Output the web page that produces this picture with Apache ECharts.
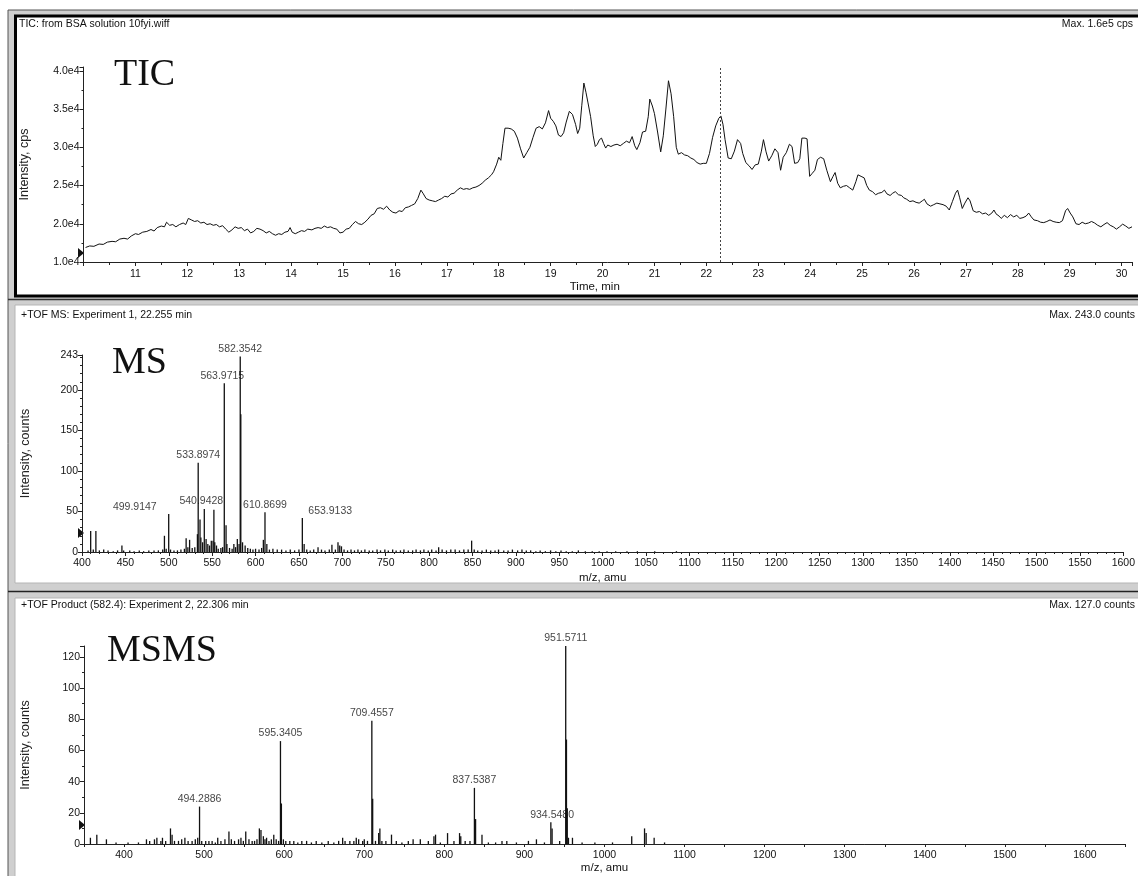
<!DOCTYPE html>
<html>
<head>
<meta charset="utf-8">
<script src="https://cdn.jsdelivr.net/npm/echarts@6/dist/echarts.min.js"></script>
<style>html,body{margin:0;padding:0;background:#fff}#c{width:1138px;height:876px}</style>
</head>
<body>
<div id="c"></div>
<script>
// ---------- DATA ----------
const ticTitle = 'TIC: from BSA solution 10fyi.wiff';
const ticMax = 'Max. 1.6e5 cps';
const msTitle = '+TOF MS: Experiment 1, 22.255 min';
const msMax = 'Max. 243.0 counts';
const msmsTitle = '+TOF Product (582.4): Experiment 2, 22.306 min';
const msmsMax = 'Max. 127.0 counts';

const ticYTickValues = [15000, 20000, 25000, 30000, 35000, 40000];
const ticYTickLabels = ['1.0e4', '2.0e4', '2.5e4', '3.0e4', '3.5e4', '4.0e4'];
const msYTickValues = [0, 50, 100, 150, 200, 243];
const msmsYTickValues = [0, 20, 40, 60, 80, 100, 120];
const ticCursorTime = 22.27;

// TIC trace: [time(min), intensity(cps)]
const ticTime = [10.04,10.12,10.2,10.3,10.38,10.46,10.55,10.62,10.7,10.78,10.85,10.92,11.0,11.06,11.14,11.22,11.3,11.36,11.42,11.5,11.56,11.6,11.66,11.72,11.78,11.85,11.92,11.97,12.02,12.08,12.14,12.2,12.26,12.32,12.38,12.44,12.5,12.56,12.62,12.68,12.74,12.8,12.86,12.92,12.98,13.04,13.1,13.16,13.22,13.28,13.34,13.4,13.46,13.52,13.58,13.64,13.7,13.76,13.82,13.88,13.94,13.98,14.02,14.08,14.14,14.2,14.26,14.32,14.4,14.46,14.52,14.58,14.64,14.7,14.76,14.82,14.88,14.94,15.0,15.06,15.12,15.18,15.24,15.3,15.36,15.42,15.48,15.54,15.6,15.66,15.72,15.78,15.84,15.9,15.96,16.02,16.08,16.14,16.2,16.26,16.32,16.38,16.44,16.5,16.54,16.6,16.66,16.72,16.78,16.84,16.9,16.96,17.02,17.08,17.14,17.2,17.26,17.32,17.38,17.44,17.5,17.56,17.62,17.68,17.74,17.8,17.86,17.9,17.96,18.0,18.04,18.08,18.12,18.18,18.24,18.3,18.36,18.42,18.48,18.54,18.6,18.66,18.72,18.78,18.84,18.9,18.96,19.0,19.05,19.1,19.15,19.2,19.25,19.3,19.36,19.42,19.48,19.52,19.56,19.6,19.64,19.68,19.72,19.77,19.82,19.86,19.9,19.94,19.98,20.02,20.06,20.1,20.16,20.22,20.28,20.34,20.4,20.46,20.52,20.57,20.62,20.66,20.72,20.77,20.83,20.88,20.91,20.96,21.0,21.06,21.12,21.17,21.22,21.27,21.32,21.37,21.42,21.46,21.52,21.58,21.64,21.7,21.76,21.82,21.88,21.94,22.0,22.06,22.12,22.18,22.24,22.28,22.32,22.36,22.42,22.48,22.54,22.6,22.66,22.7,22.76,22.82,22.88,22.94,23.0,23.06,23.1,23.15,23.2,23.26,23.32,23.38,23.43,23.48,23.54,23.6,23.65,23.7,23.76,23.8,23.84,23.9,23.94,23.99,24.04,24.09,24.14,24.2,24.26,24.32,24.39,24.44,24.48,24.53,24.58,24.64,24.7,24.76,24.82,24.88,24.92,24.98,25.04,25.09,25.14,25.2,25.26,25.32,25.38,25.43,25.48,25.54,25.59,25.64,25.7,25.76,25.8,25.86,25.92,25.98,26.04,26.1,26.16,26.2,26.25,26.32,26.38,26.44,26.5,26.56,26.62,26.68,26.74,26.8,26.84,26.88,26.93,26.98,27.04,27.08,27.14,27.2,27.26,27.32,27.38,27.44,27.5,27.54,27.58,27.64,27.68,27.74,27.8,27.86,27.92,27.98,28.04,28.1,28.16,28.21,28.26,28.31,28.38,28.44,28.5,28.56,28.62,28.68,28.74,28.8,28.86,28.92,28.96,29.01,29.06,29.12,29.18,29.24,29.3,29.36,29.42,29.48,29.54,29.6,29.66,29.72,29.78,29.84,29.9,29.96,30.02,30.08,30.14,30.2];
const ticIntensity = [16900,17100,17050,17350,17300,17600,17700,17650,18000,18100,18000,18400,18700,18600,18900,19000,19250,19050,19500,19700,19600,20200,19800,19900,19600,19900,20100,19900,20700,20500,20300,20400,20100,20200,19900,20000,19800,19900,19600,19750,19300,18900,19200,19600,19400,19500,19100,19300,18800,19000,19400,19300,19100,18800,19000,18700,18500,18700,18600,18900,19000,19500,18900,18700,18900,19100,19000,19300,19200,19400,19500,19400,19700,19500,19600,19400,19300,18800,18900,19300,19400,19900,20300,20000,19900,20200,20600,21100,21300,22000,22100,21900,22300,21800,21500,21400,21700,21600,22100,22200,22400,22600,23300,24400,24000,23300,23100,23000,22900,23100,23300,23600,23500,23900,24000,24400,24700,24500,24600,24500,24700,24800,25000,25300,25700,26000,26400,26800,27800,28700,28300,30500,32500,32500,32400,32100,31200,29800,28600,29300,30000,31300,32500,32700,32400,33200,34800,33800,33400,32800,31600,31400,31900,33300,34700,34300,33000,31800,32500,35500,38400,37200,35800,34000,31500,30100,30400,31000,31200,30500,29900,30300,30100,30300,30400,30200,30500,30800,30600,31400,30200,29700,30600,32000,32100,34000,36300,35400,34400,32000,29400,31500,35000,38700,37000,34000,30000,29100,29300,29000,28900,28600,28400,28000,27800,27900,27900,29200,31300,32800,33800,34100,33000,31000,28600,28500,29500,31000,30500,29200,28000,27600,27100,27700,27800,29500,31000,29400,28200,28900,29800,29300,27000,28700,29300,30400,30100,27900,28000,28500,31200,31200,31100,26200,26600,27000,28400,28700,28500,27000,25500,26200,26700,25300,24700,24900,25000,24700,24400,25500,26400,26200,26000,25000,24400,24200,23800,24000,24100,24400,23900,23700,24000,24200,23800,23700,23400,23200,22900,23000,22800,22700,23000,23200,22600,22300,22500,22700,22600,22500,22300,21800,22900,24000,24400,23400,22000,22700,23400,23000,21700,21500,21600,21300,21400,21100,21400,21800,21300,21000,20700,21100,20800,21200,20900,21100,20700,20800,21000,21400,20900,20500,20400,20200,20150,20300,20500,20300,20200,20150,20400,21700,22000,21400,20900,20000,19900,20200,20000,20100,20300,20100,19800,19600,19900,20150,19800,19600,19300,19600,19950,19700,19400,19600];

// MS spectrum sticks: m/z and intensity (counts)
const msMz = [407,410,413,416,420,425,430,436,441,446,448,455,460,466,471,477,483,488,493,495,497,499.91,502,506,510,514,518,520,522,524,527,530,533,533.9,536,537,539,540.94,543,545,547,549,551,552,553,555,557,560,562,563.97,566,567,570,573,575,577,579,581,582.35,583,585,588,591,594,597,600,604,607,609,610.87,613,616,620,625,630,635,640,645,650,653.91,656,659,663,667,672,676,680,685,688,692,695,697,699,702,706,710,714,718,722,726,731,735,740,744,749,753,758,762,767,771,776,781,785,790,794,799,803,808,811,815,820,825,830,835,840,845,849,852,856,861,866,871,876,880,886,891,896,902,907,912,917,923,928,934,940,946,952,958,965,972,980,988,996,1005,1015,1028,1040,1060,1085];
const msInt = [2,26,3,26,2,3,2,1,2,8,2,2,1,2,1,2,2,2,3,20,4,47,3,2,2,3,4,17,6,15,5,6,22,110,40,18,12,53,16,10,8,14,14,52,12,8,4,5,6,208,33,10,5,4,10,6,16,10,241,170,12,8,5,4,3,4,3,5,15,49,10,3,4,3,3,2,3,2,3,42,10,3,2,3,6,3,2,3,9,3,12,8,7,3,2,3,2,3,2,3,2,2,3,2,3,2,3,2,2,3,2,2,3,2,3,2,3,2,6,3,2,3,3,2,3,3,14,3,2,2,3,2,2,3,2,2,3,2,3,2,2,1,2,1,2,1,2,1,1,2,1,1,1,1,1,1,1,1,1];
const msLabelMz = [499.9147, 533.8974, 540.9428, 563.9715, 582.3542, 610.8699, 653.9133];
const msLabelInt = [47, 110, 53, 208, 241, 49, 42];

// MS/MS spectrum sticks
const msmsMz = [358,366,378,390,405,418,428,432,438,441,446,448,452,458,460,463,468,472,476,480,485,489,492,494.29,497,502,506,510,514,517,521,526,531,534,538,543,546,549,552,556,560,563,566,569,571,574,576,578,581,584,587,590,593,595.34,596.5,599,602,607,612,617,622,628,634,640,647,655,662,668,673,676,682,687,690,693,698,700,704,709.46,710.5,714,718,719.5,722,727,734,740,747,755,761,770,780,787,789,795,804,812,819,820.5,826,832,837.54,839,847,855,864,872,878,890,905,915,925,933,934.55,944,951.57,952.5,953.5,955,960,972,988,1010,1034,1050,1052,1062,1075];
const msmsInt = [4,6,3,1,1,1,3,2,3,4,2,4,2,10,6,2,2,3,4,2,2,3,4,24,2,2,2,2,1,4,2,3,8,3,2,3,4,2,8,3,2,2,3,10,9,5,3,4,2,3,6,3,2,66,26,3,2,2,2,1,2,2,1,2,1,2,1,2,4,2,2,2,4,3,2,3,2,79,29,2,7,10,2,2,6,2,1,2,3,3,2,5,6,1,7,2,7,5,2,2,36,16,6,1,1,2,2,1,2,3,1,14,10,2,127,67,23,4,4,1,1,1,5,10,7,4,1];
const msmsLabelMz = [494.2886, 595.3405, 709.4557, 837.5387, 934.5480, 951.5711];
const msmsLabelInt = [24, 66, 79, 36, 14, 127];

// ---------- CHART ----------
const FONT = '"Liberation Sans", Arial, sans-serif';
const tickFont = {fontFamily: FONT, fontSize: 10.5, color: '#111'};
const pairs = (a, b) => a.map((v, i) => [v, b[i]]);

function stickSeries(xi, mz, inten) {
  return {
    type: 'custom', xAxisIndex: xi, yAxisIndex: xi, clip: true,
    encode: {x: 0, y: 1},
    data: pairs(mz, inten),
    renderItem: function (params, api) {
      const x = api.value(0), y = api.value(1);
      const p0 = api.coord([x, 0]), p1 = api.coord([x, y]);
      return {type: 'line', shape: {x1: p0[0], y1: p0[1], x2: p1[0], y2: p1[1]},
        style: {stroke: '#111', lineWidth: 1.3}};
    },
    silent: true
  };
}
function labelSeries(xi, mz, inten, overrides) {
  return {
    type: 'scatter', xAxisIndex: xi, yAxisIndex: xi, symbolSize: 0, silent: true,
    data: mz.map((m, i) => Object.assign({value: [m, inten[i]]}, overrides[i] || {})),
    label: {show: true, position: 'top', distance: 2, fontFamily: FONT, fontSize: 10.5, color: '#111',
      formatter: p => p.value[0].toFixed(4)}
  };
}

const axisLineStyle = {show: true, lineStyle: {color: '#222', width: 1}};
const chart = echarts.init(document.getElementById('c'), null, {renderer: 'canvas'});
const option = {
  backgroundColor: '#ffffff',
  animation: false,
  grid: [
    {left: 83.5, top: 67, width: 1048.5, height: 195},
    {left: 82, top: 355, width: 1045, height: 197},
    {left: 84, top: 646, width: 1041, height: 198}
  ],
  xAxis: [
    {gridIndex: 0, type: 'value', min: 10, max: 30.2, interval: 1,
      axisLine: axisLineStyle, axisTick: {show: true, length: 4, lineStyle: {color: '#222'}},
      minorTick: {show: true, splitNumber: 2, length: 3, lineStyle: {color: '#222'}},
      splitLine: {show: false},
      axisLabel: Object.assign({margin: 7, showMinLabel: false,
        formatter: v => (Math.abs(v - Math.round(v)) < 1e-6 && v > 10.5) ? String(Math.round(v)) : ''}, tickFont),
      name: 'Time, min', nameLocation: 'middle', nameGap: 19,
      nameTextStyle: {fontFamily: FONT, fontSize: 11.5, color: '#111', padding: [0, 26, 0, 0]}},
    {gridIndex: 1, type: 'value', min: 400, max: 1600, interval: 50,
      axisLine: axisLineStyle, axisTick: {show: true, length: 4, lineStyle: {color: '#222'}},
      minorTick: {show: true, splitNumber: 5, length: 2, lineStyle: {color: '#222'}},
      splitLine: {show: false},
      axisLabel: Object.assign({margin: 6, formatter: v => String(v)}, tickFont),
      name: 'm/z, amu', nameLocation: 'middle', nameGap: 20,
      nameTextStyle: {fontFamily: FONT, fontSize: 11.5, color: '#111'}},
    {gridIndex: 2, type: 'value', min: 350, max: 1650, interval: 50,
      axisLine: axisLineStyle, axisTick: {show: true, length: 3, lineStyle: {color: '#222'}},
      splitLine: {show: false},
      axisLabel: Object.assign({margin: 6, formatter: v => (v % 100 === 0) ? String(v) : ''}, tickFont),
      name: 'm/z, amu', nameLocation: 'middle', nameGap: 18,
      nameTextStyle: {fontFamily: FONT, fontSize: 11.5, color: '#111'}}
  ],
  yAxis: [
    {gridIndex: 0, type: 'value', min: 15000, max: 40500, interval: 5000,
      axisLine: axisLineStyle, axisTick: {show: true, length: 4, lineStyle: {color: '#222'}},
      minorTick: {show: true, splitNumber: 2, length: 2, lineStyle: {color: '#222'}},
      splitLine: {show: false},
      axisLabel: Object.assign({margin: 4, formatter: v => {
        const i = ticYTickValues.indexOf(v); return i >= 0 ? ticYTickLabels[i] : ''; }}, tickFont),
      name: 'Intensity, cps', nameLocation: 'middle', nameGap: 52,
      nameTextStyle: {fontFamily: FONT, fontSize: 12.5, color: '#222'}},
    {gridIndex: 1, type: 'value', min: 0, max: 243, interval: 50,
      axisLine: axisLineStyle, axisTick: {show: true, length: 4, lineStyle: {color: '#222'}},
      minorTick: {show: true, splitNumber: 5, length: 2, lineStyle: {color: '#222'}},
      splitLine: {show: false},
      axisLabel: Object.assign({margin: 4, showMaxLabel: true, formatter: v => {
        const i = msYTickValues.indexOf(Math.round(v)); return i >= 0 ? String(msYTickValues[i]) : ''; }}, tickFont),
      name: 'Intensity, counts', nameLocation: 'middle', nameGap: 50,
      nameTextStyle: {fontFamily: FONT, fontSize: 12.5, color: '#222'}},
    {gridIndex: 2, type: 'value', min: 0, max: 127, interval: 20,
      axisLine: axisLineStyle, axisTick: {show: true, length: 4, lineStyle: {color: '#222'}},
      minorTick: {show: true, splitNumber: 2, length: 2, lineStyle: {color: '#222'}},
      splitLine: {show: false},
      axisLabel: Object.assign({margin: 4, formatter: v => msmsYTickValues.indexOf(v) >= 0 ? String(v) : ''}, tickFont),
      name: 'Intensity, counts', nameLocation: 'middle', nameGap: 52,
      nameTextStyle: {fontFamily: FONT, fontSize: 12.5, color: '#222'}}
  ],
  series: [
    {type: 'line', xAxisIndex: 0, yAxisIndex: 0, data: pairs(ticTime, ticIntensity),
      showSymbol: false, symbol: 'none', lineStyle: {color: '#111', width: 1}, silent: true,
      markLine: {silent: true, symbol: 'none', label: {show: false},
        lineStyle: {color: '#444', width: 1, type: [2, 2]},
        data: [{xAxis: ticCursorTime}]}},
    stickSeries(1, msMz, msInt),
    labelSeries(1, msLabelMz, msLabelInt, [
      {label: {position: 'left', distance: 12, offset: [0, -7]}},
      null, {label: {offset: [-3, 0]}}, {label: {offset: [-2, 0]}}, null, null,
      {label: {position: 'right', distance: 6, offset: [0, -7]}}
    ]),
    stickSeries(2, msmsMz, msmsInt),
    labelSeries(2, msmsLabelMz, msmsLabelInt, [null, null, null, null, null, null])
  ],
  graphic: [
    {type: 'rect', z: -10, shape: {x: 8, y: 10, width: 1140, height: 880}, style: {fill: '#cfcfcf', stroke: '#555', lineWidth: 1}},
    {type: 'rect', z: -9, shape: {x: 15.5, y: 16, width: 1130, height: 280}, style: {fill: '#fff', stroke: '#000', lineWidth: 3}},
    {type: 'rect', z: -9, shape: {x: 15, y: 305, width: 1130, height: 278}, style: {fill: '#fff', stroke: '#b5b5b5', lineWidth: 1}},
    {type: 'line', z: -9, shape: {x1: 8, y1: 299.5, x2: 1138, y2: 299.5}, style: {stroke: '#333', lineWidth: 1.5}},
    {type: 'line', z: -9, shape: {x1: 8, y1: 591.5, x2: 1138, y2: 591.5}, style: {stroke: '#222', lineWidth: 1.5}},
    {type: 'rect', z: -9, shape: {x: 15, y: 598, width: 1130, height: 290}, style: {fill: '#fff', stroke: '#b5b5b5', lineWidth: 1}},
    {type: 'text', left: 19, top: 19, style: {text: ticTitle, font: '10.5px ' + FONT, fill: '#111'}},
    {type: 'text', right: 5, top: 19, style: {text: ticMax, font: '10.5px ' + FONT, fill: '#111'}},
    {type: 'text', left: 21, top: 310, style: {text: msTitle, font: '10.5px ' + FONT, fill: '#111'}},
    {type: 'text', right: 3, top: 310, style: {text: msMax, font: '10.5px ' + FONT, fill: '#111'}},
    {type: 'text', left: 21, top: 600, style: {text: msmsTitle, font: '10.5px ' + FONT, fill: '#111'}},
    {type: 'text', right: 3, top: 600, style: {text: msmsMax, font: '10.5px ' + FONT, fill: '#111'}},
    {type: 'text', left: 114, top: 56, style: {text: 'TIC', font: '38px "Liberation Serif", "Times New Roman", serif', fill: '#111'}},
    {type: 'text', left: 112, top: 344, style: {text: 'MS', font: '38px "Liberation Serif", "Times New Roman", serif', fill: '#111'}},
    {type: 'text', left: 107, top: 632, style: {text: 'MSMS', font: '38px "Liberation Serif", "Times New Roman", serif', fill: '#111'}},
    {type: 'polygon', shape: {points: [[78, 248], [84, 253], [78, 258]]}, style: {fill: '#111'}},
    {type: 'polygon', shape: {points: [[78, 528], [84, 533], [78, 538]]}, style: {fill: '#111'}},
    {type: 'polygon', shape: {points: [[79, 820], [85, 825], [79, 830]]}, style: {fill: '#111'}}
  ]
};
chart.setOption(option);
</script>
</body>
</html>
